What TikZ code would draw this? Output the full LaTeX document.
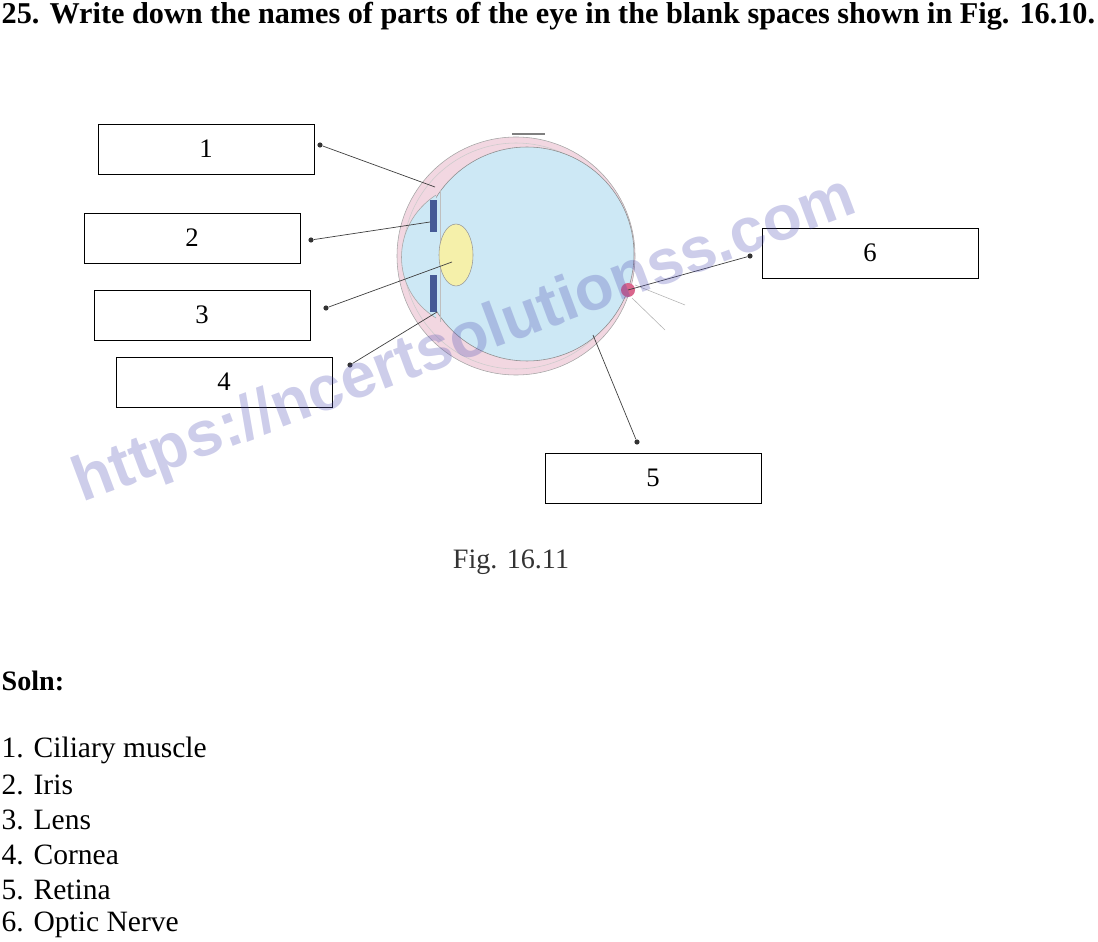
\documentclass[tikz,border=0pt]{standalone}
\usepackage{fontspec}
\setmainfont{Liberation Serif}
\newfontfamily\wmfont{Liberation Sans}
\usetikzlibrary{positioning}
\definecolor{eyeblue}{RGB}{205,232,245}
\definecolor{scleraPink}{RGB}{242,215,225}
\definecolor{irisblue}{RGB}{70,90,150}
\definecolor{lensyellow}{RGB}{245,240,170}
\tikzset{
  blank/.style={draw, minimum width=54mm, minimum height=12.5mm, font=\fontsize{19}{22}\selectfont},
  pointer/.style={draw=black!75, line width=0.5pt},
  tipdot/.style={circle, fill=black!80, inner sep=1.3pt},
  answer/.style={anchor=west, inner sep=1pt, font=\fontsize{21}{24}\selectfont}
}
\begin{document}
\begin{tikzpicture}[x=0.25mm,y=-0.25mm]
\useasboundingbox (0,0) rectangle (1098,942);
% question
\node[anchor=west, inner sep=1pt, font=\bfseries\fontsize{21.5}{24}\selectfont] (q) at (0,16)
  {25. Write down the names of parts of the eye in the blank spaces shown in Fig. 16.10.};
% eye
\fill[scleraPink] (516,256) circle (119);
\draw[black!35] (516,256) circle (119);
\draw[black!20] (516,256) circle (113);
\fill[eyeblue] (527,254) circle (107);
\draw[black!45] (527,254) circle (107);
\fill[eyeblue] (436,195) .. controls (390,225) and (390,290) .. (436,318) -- cycle;
\draw[black!35] (436,195) .. controls (390,225) and (390,290) .. (436,318);
\draw[black!25] (440,190) -- (440,322);
\fill[irisblue] (430,200) rectangle (437,232);
\fill[irisblue] (430,275) rectangle (437,312);
\fill[lensyellow, draw=black!40] (456,255) ellipse (17 and 31);
\draw[black!50, line width=1pt] (512,134) -- (545,134);
% optic nerve
\fill[purple!60] (628,290) circle (7);
\draw[black!30] (635,285) -- (685,305);
\draw[black!30] (632,298) -- (665,330);
% blanks
\node[blank] (b1) at (206,149) {1};
\node[blank] (b2) at (192,238) {2};
\node[blank] (b3) at (202,315) {3};
\node[blank] (b4) at (224,382) {4};
\node[blank] (b5) at (653,478) {5};
\node[blank] (b6) at (870,253) {6};
% pointer ends
\coordinate (e1) at (435,187);
\coordinate (e2) at (430,222);
\coordinate (e3) at (452,262);
\coordinate (e4) at (437,312);
\coordinate (e5) at (593,335);
\coordinate (e6) at (628,290);
\node[tipdot] (d1) at (320,145) {};
\node[tipdot] (d2) at (311,240) {};
\node[tipdot] (d3) at (326,308) {};
\node[tipdot] (d4) at (350,365) {};
\node[tipdot] (d5) at (637,442) {};
\node[tipdot] (d6) at (750,256) {};
\foreach \i in {1,...,6} \draw[pointer] (d\i) -- (e\i);
% watermark
\node[rotate=20.5, text=blue!40!gray, opacity=0.28, font=\wmfont\bfseries\fontsize{45}{48}\selectfont] (wm) at (465,342) {https://ncertsolutionss.com};
% caption
\node[font=\fontsize{20}{24}\selectfont, text=black!80] (cap) at (511,562) {Fig. 16.11};
% solution
\node[anchor=west, inner sep=1pt, font=\bfseries\fontsize{20}{24}\selectfont] (soln) at (0,681) {Soln:};
\node[answer] (a1) at (0,750) {1. Ciliary muscle};
\node[answer] (a2) at (0,785) {2. Iris};
\node[answer] (a3) at (0,820) {3. Lens};
\node[answer] (a4) at (0,855) {4. Cornea};
\node[answer] (a5) at (0,890) {5. Retina};
\node[answer] (a6) at (0,925) {6. Optic Nerve};
\end{tikzpicture}
\end{document}
